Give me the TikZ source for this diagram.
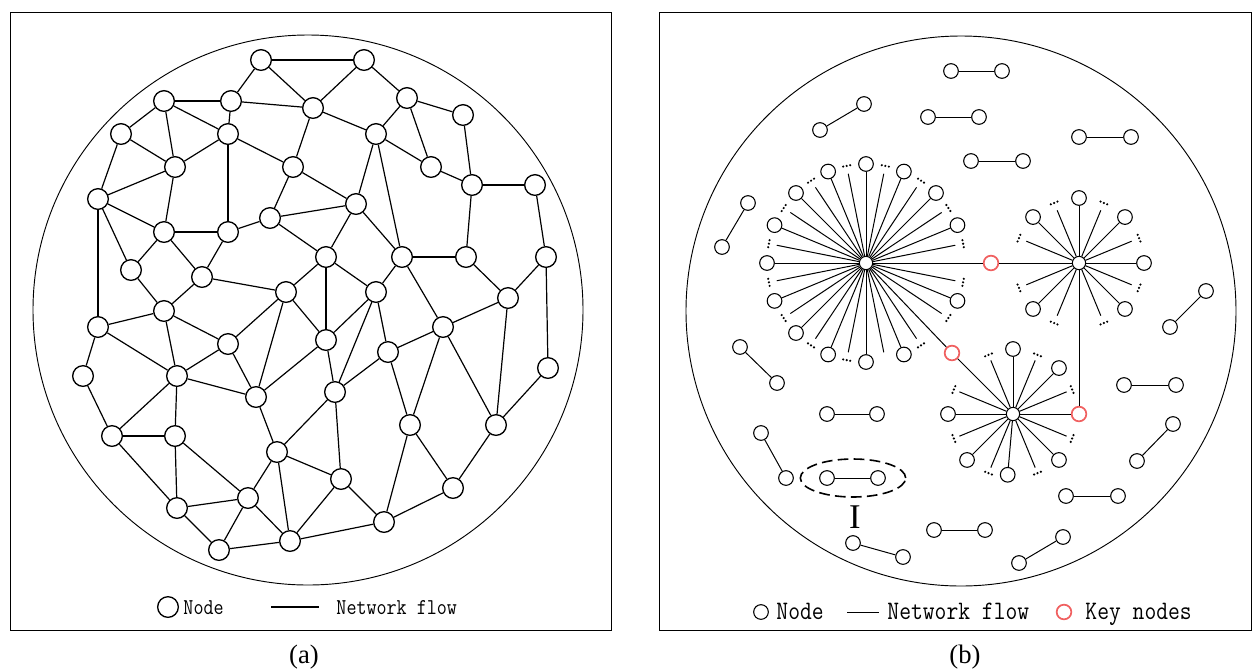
\documentclass[tikz,border=0pt]{standalone}
\usepackage{fontspec}
\setmainfont{Liberation Serif}
\setmonofont{Latin Modern Mono}[FakeStretch=0.86]
\usepackage{tikz}
\usetikzlibrary{shapes.geometric}
\usetikzlibrary{positioning}
\definecolor{keyred}{RGB}{240,96,96}
\tikzstyle{anode}=[circle,draw=black,fill=white,line width=1pt,inner sep=0mm,minimum size=15.5pt]
\tikzstyle{bnode}=[circle,draw=black,fill=white,line width=0.8pt,inner sep=0mm,minimum size=11pt]
\tikzstyle{hub}=[circle,draw=black,fill=white,line width=0.8pt,inner sep=0mm,minimum size=10pt]
\tikzstyle{keynode}=[circle,draw=keyred,fill=white,line width=1.3pt,inner sep=0mm,minimum size=11pt]
\tikzstyle{flow}=[line width=0.9pt]
\tikzstyle{spoke}=[line width=0.75pt]
\tikzstyle{legendA}=[anchor=base west,inner sep=0pt,font=\ttfamily\fontsize{17pt}{20pt}\selectfont]
\tikzstyle{legendB}=[anchor=base west,inner sep=0pt,font=\ttfamily\fontsize{20pt}{24pt}\selectfont]
\tikzstyle{caption}=[anchor=base,inner sep=0pt,font=\fontsize{20pt}{24pt}\selectfont]
\tikzset{every picture/.style={
    line width=0.7pt
  }
}
% three dots across a cut spoke
\newcommand{\spokedots}[3]{%
  \foreach \k in {-1,0,1}
    \fill (#1) ++({-(#2)}:#3) ++({90-(#2)}:{3.6*\k}) circle[radius=0.9pt];%
}

\begin{document}
\begin{tikzpicture}[x=0.75pt,y=-0.75pt]
      \useasboundingbox (0,0) rectangle (1253,669);
      % (a)
      \draw (10,12) rectangle (611,630);
      \draw (308,310) circle[radius=206.25pt];
      \foreach \n/\x/\y in {1/261/60, 2/364/60, 3/164/101, 4/231/101, 5/313/108,
          6/407/98, 7/463/115, 8/121/134, 9/228/134, 10/376/134, 11/175/167,
          12/293/167, 13/431/167, 14/98/199, 15/472/185, 16/535/185, 17/270/218,
          18/356/204, 19/164/232, 20/228/232, 21/131/270, 22/326/257, 23/402/257,
          24/466/257, 25/546/257, 26/202/277, 27/286/292, 28/376/292, 29/508/298,
          30/164/311, 31/98/327, 32/443/327, 33/228/344, 34/326/340, 35/388/352,
          36/83/376, 37/177/376, 38/548/368, 39/256/397, 40/335/392, 41/112/436,
          42/175/436, 43/410/425, 44/496/425, 45/277/452, 46/341/479, 47/453/488,
          48/177/508, 49/248/498, 50/384/522, 51/219/550, 52/290/541}
        \node[anode] (n\n) at (\x,\y) {};
      \foreach \s/\t in {1/2, 1/4, 1/5, 2/5, 2/6, 3/4, 3/8, 3/11, 3/9, 4/9, 4/5,
          5/12, 5/10, 6/10, 6/7, 6/13, 7/15, 8/11, 8/14, 9/11, 9/20, 9/12,
          10/13, 10/18, 10/23, 11/14, 11/19, 12/17, 12/18, 13/15, 14/19, 14/21,
          14/31, 15/16, 15/24, 16/25, 17/20, 17/18, 17/22, 18/22, 18/23, 19/20,
          19/21, 19/26, 20/26, 21/30, 22/27, 22/28, 22/34, 23/24, 23/28, 23/32,
          24/29, 25/29, 25/38, 26/27, 26/30, 27/33, 27/39, 27/34, 28/34, 28/40,
          28/35, 29/32, 29/44, 30/31, 30/37, 30/33, 31/36, 31/37, 32/35, 32/43,
          32/44, 33/37, 33/39, 34/39, 34/40, 35/40, 35/43, 36/41, 37/39, 37/41,
          37/42, 38/44, 39/45, 40/45, 40/46, 41/42, 41/48, 42/48, 42/49, 43/47,
          43/50, 44/47, 45/46, 45/49, 45/52, 46/50, 46/52, 47/50, 48/49, 48/51,
          49/51, 49/52, 50/52, 51/52}
        \draw[flow] (n\s) -- (n\t);
      \node[anode] (legnodeA) at (168,607) {};
      \node[legendA] (legnodetxtA) at (183,614) {Node};
      \coordinate (legflowA1) at (271,607);
      \coordinate (legflowA2) at (319,607);
      \draw[flow] (legflowA1) -- (legflowA2);
      \node[legendA] (legflowtxtA) at (336,614) {Network flow};
      \node[caption] (capA) at (304,663) {(a)};
      % (b)
      \draw (659,12) rectangle (1251,630);
      \draw (961,311) circle[radius=206.25pt];
      \node[hub] (hubA) at (866,263) {};
      \node[hub] (hubB) at (1079,263) {};
      \node[hub] (hubC) at (1013,414) {};
      \node[keynode] (key1) at (991,263) {};
      \node[keynode] (key2) at (952,353) {};
      \node[keynode] (key3) at (1079,414) {};
      \draw[spoke] (hubA) -- (key1) -- (hubB);
      \draw[spoke] (hubA) -- (key2) -- (hubC);
      \draw[spoke] (hubB) -- (key3) -- (hubC);
      % big star
      \foreach \i in {1,2,3,4,5,6,7,8,9,10,11,12,13,15}
        {\path (hubA) ++({-\i*22.5}:99) node[bnode] (A\i) {};
         \draw[spoke] (hubA) -- (A\i);}
      \foreach \i in {0,...,15}
        \draw[spoke] (hubA) -- ++({-11.25-\i*22.5}:91);
      \foreach \i in {0,1,2,3,4,5,6,7,8,9,10,11,13,14,15}
        {\spokedots{hubA}{11.25+\i*22.5}{99}}
      % small stars
      \foreach \i in {0,2,4,6,10,14}
        {\path (hubB) ++({-\i*22.5}:65) node[bnode] (B\i) {};
         \draw[spoke] (hubB) -- (B\i);}
      \foreach \i in {1,3,...,15}
        {\draw[spoke] (hubB) -- ++({-\i*22.5}:57);
         \spokedots{hubB}{\i*22.5}{65}}
      \foreach \i in {2,4,8,10,14}
        {\path (hubC) ++({-\i*22.5}:65) node[bnode] (C\i) {};
         \draw[spoke] (hubC) -- (C\i);}
      \path (hubC) ++(-265:61) node[bnode] (C12) {};
      \draw[spoke] (hubC) -- (C12);
      \foreach \i in {1,3,...,15}
        {\draw[spoke] (hubC) -- ++({-\i*22.5}:58);
         \spokedots{hubC}{\i*22.5}{64}}
      % isolated pairs
      \foreach \x/\y/\u/\v [count=\n] in {951/71/1002/71, 820/130/864/104,
          928/117/979/117, 1079/137/1131/137, 971/161/1023/161, 722/247/748/203,
          1206/291/1170/327, 740/347/777/383, 1124/385/1176/385, 827/414/877/414,
          1173/424/1137/461, 761/433/786/478, 827/478/878/478, 1066/496/1118/496,
          934/530/985/530, 853/543/903/557, 1063/537/1019/563}
        {\node[bnode] (d\n-1) at (\x,\y) {};
         \node[bnode] (d\n-2) at (\u,\v) {};
         \draw[spoke] (d\n-1) -- (d\n-2);}
      \node[ellipse,draw,dashed,dash pattern=on 8pt off 4pt,line width=1.2pt,
            minimum width=79pt,minimum height=28.5pt] (groupI) at (853,478) {};
      \node[anchor=base,inner sep=0pt,font=\fontsize{26pt}{30pt}\selectfont] (labelI) at (855,528) {I};
      \node[bnode] (legnodeB) at (761,612) {};
      \node[legendB] (legnodetxtB) at (776,619) {Node};
      \coordinate (legflowB1) at (847,612);
      \coordinate (legflowB2) at (879,612);
      \draw[spoke] (legflowB1) -- (legflowB2);
      \node[legendB] (legflowtxtB) at (887,619) {Network flow};
      \node[keynode] (legkeyB) at (1064,612) {};
      \node[legendB] (legkeytxtB) at (1085,619) {Key nodes};
      \node[caption] (capB) at (965,663) {(b)};
    \end{tikzpicture}
\end{document}
